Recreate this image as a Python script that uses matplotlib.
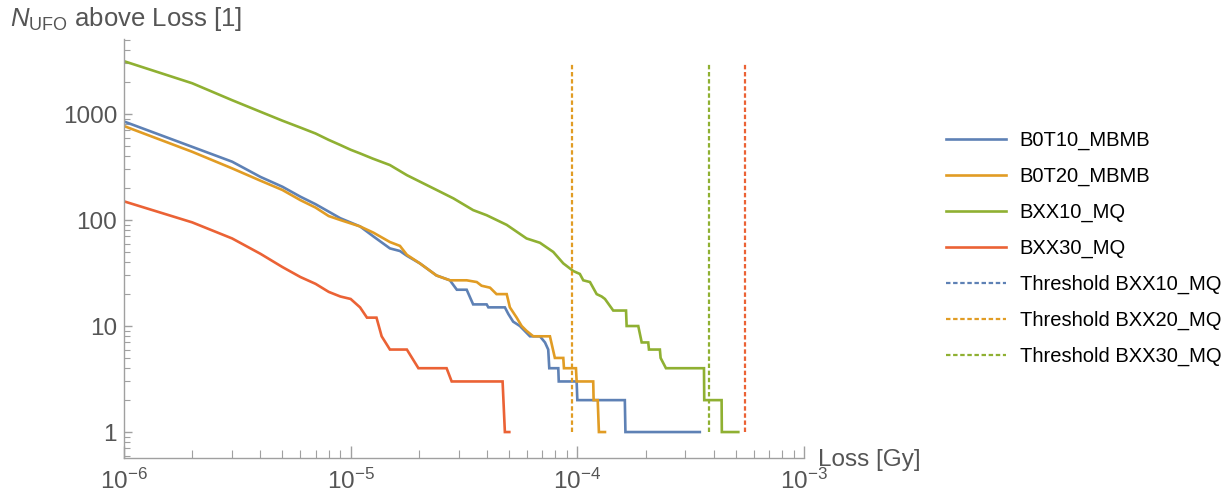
import matplotlib
matplotlib.use("Agg")
import matplotlib.pyplot as plt
from matplotlib.lines import Line2D
from matplotlib.ticker import LogLocator, NullFormatter

# Cumulative UFO counts above a given loss, one curve per monitor family
b0t10_loss = [1e-6, 2e-6, 3e-6, 4e-6, 5e-6, 6e-6, 7e-6, 8e-6, 9e-6,
              1.10e-5, 1.26e-5, 1.49e-5, 1.65e-5, 1.77e-5, 2.02e-5, 2.39e-5, 2.74e-5,
              2.94e-5, 3.25e-5, 3.47e-5, 3.98e-5, 4.05e-5, 4.79e-5, 4.96e-5, 5.21e-5,
              5.58e-5, 6.18e-5, 6.84e-5, 7.20e-5, 7.44e-5, 7.52e-5, 8.24e-5, 8.28e-5,
              9.93e-5, 1.0e-4, 1.62e-4, 1.63e-4, 3.47e-4]
b0t10_n = [850, 490, 355, 255, 206, 166, 141, 120, 104,
           87, 70, 54, 51, 46, 39, 30, 27,
           22, 22, 16, 16, 15, 15, 13, 11,
           10, 8, 8, 7, 6, 4, 4, 3,
           3, 2, 2, 1, 1]

b0t20_loss = [1e-6, 2e-6, 3e-6, 4e-6, 5e-6, 6e-6, 7e-6, 8e-6, 9e-6,
              1.10e-5, 1.26e-5, 1.49e-5, 1.65e-5, 1.77e-5, 2.02e-5, 2.39e-5, 2.74e-5,
              3.25e-5, 3.60e-5, 3.78e-5, 4.12e-5, 4.40e-5, 4.88e-5, 5.04e-5, 5.40e-5,
              5.68e-5, 5.97e-5, 6.39e-5, 7.57e-5, 7.96e-5, 8.67e-5, 8.73e-5, 9.86e-5,
              9.93e-5, 1.175e-4, 1.18e-4, 1.23e-4, 1.245e-4, 1.324e-4]
b0t20_n = [770, 440, 307, 235, 192, 154, 131, 109, 100,
           87, 76, 62, 57, 47, 39, 30, 27,
           27, 26, 24, 23, 20, 20, 15, 12,
           10, 9, 8, 8, 5, 5, 4, 4,
           3, 3, 2, 2, 1, 1]

bxx10_loss = [1e-6, 2e-6, 3e-6, 4e-6, 5e-6, 6e-6, 7e-6, 8e-6, 9e-6, 1.0e-5,
              1.1e-5, 1.25e-5, 1.49e-5, 1.77e-5, 2.09e-5, 2.48e-5, 2.84e-5, 3.47e-5,
              3.98e-5, 4.88e-5, 5.97e-5, 6.84e-5, 7.83e-5, 8.67e-5, 9.6e-5, 1.026e-4,
              1.062e-4, 1.137e-4, 1.217e-4, 1.28e-4, 1.324e-4, 1.44e-4, 1.64e-4, 1.65e-4,
              1.857e-4, 1.923e-4, 2.055e-4, 2.07e-4, 2.313e-4, 2.33e-4, 2.46e-4, 3.62e-4,
              3.63e-4, 4.33e-4, 4.34e-4, 5.13e-4]
bxx10_n = [3150, 1950, 1350, 1050, 865, 745, 655, 570, 510, 460,
           425, 380, 330, 265, 222, 185, 160, 124,
           111, 90, 67, 61, 50, 39, 33, 31,
           27, 26, 20, 19, 18, 14, 14, 10,
           10, 7, 7, 6, 6, 5, 4, 4,
           2, 2, 1, 1]

bxx30_loss = [1e-6, 2e-6, 3e-6, 4e-6, 5e-6, 6e-6, 7e-6, 8e-6, 9e-6, 1.0e-5,
              1.10e-5, 1.18e-5, 1.30e-5, 1.37e-5, 1.49e-5, 1.77e-5, 1.99e-5, 2.65e-5,
              2.79e-5, 4.68e-5, 4.79e-5, 5.01e-5]
bxx30_n = [150, 95, 67, 48, 36, 29, 25, 21, 19, 18,
           15, 12, 12, 8, 6, 6, 4, 4,
           3, 3, 1, 1]

# Loss thresholds (vertical markers), drawn from N = 1 up to the top of the data
threshold_loss = [9.5e-5, 3.8e-4, 5.48e-4]
threshold_span = [1, 3000]

series_labels = ["B0T10_MBMB", "B0T20_MBMB", "BXX10_MQ", "BXX30_MQ"]
threshold_labels = ["Threshold BXX10_MQ", "Threshold BXX20_MQ", "Threshold BXX30_MQ"]

BLUE = "#5E81B5"
ORANGE = "#E19C24"
GREEN = "#8FB032"
RED = "#EB6235"
AXIS_GREY = "#a0a0a0"
TEXT_GREY = "#555555"

plt.rcParams.update({
    "font.family": ["Liberation Sans", "DejaVu Sans"],
    "mathtext.fontset": "custom",
    "mathtext.rm": "Liberation Sans",
    "mathtext.it": "Liberation Sans:italic",
    "mathtext.bf": "Liberation Sans:bold",
})

W, H = 1230, 497
fig = plt.figure(figsize=(W / 100, H / 100), dpi=100)
ax = fig.add_axes([124 / W, 1 - 458 / H, (804 - 124) / W, (458 - 39) / H])

LW = 1.9
series = [(b0t10_loss, b0t10_n, BLUE), (b0t20_loss, b0t20_n, ORANGE),
          (bxx10_loss, bxx10_n, GREEN), (bxx30_loss, bxx30_n, RED)]
handles = []
for (x, y, c), lab in zip(series, series_labels):
    h, = ax.plot(x, y, color=c, lw=LW, solid_joinstyle="miter", label=lab)
    handles.append(h)

dot = (0, (2, 1.2))
for xv, c in zip(threshold_loss, [ORANGE, GREEN, RED]):
    ax.plot([xv, xv], threshold_span, color=c, lw=1.6, linestyle=dot)

# legend entries for the thresholds use the first three palette colours
for c in [BLUE, ORANGE, GREEN]:
    handles.append(Line2D([], [], color=c, lw=1.6, linestyle=dot))

ax.set_xscale("log")
ax.set_yscale("log")
ax.set_xlim(1e-6, 1e-3)
ax.set_ylim(0.569, 5100)

for s in ["top", "right"]:
    ax.spines[s].set_visible(False)
for s in ["left", "bottom"]:
    ax.spines[s].set_color(AXIS_GREY)
    ax.spines[s].set_linewidth(1.0)

ax.xaxis.set_major_locator(LogLocator(base=10, numticks=10))
ax.xaxis.set_minor_locator(LogLocator(base=10, subs=range(2, 10), numticks=20))
ax.xaxis.set_minor_formatter(NullFormatter())
ax.set_yticks([1, 10, 100, 1000])
ax.set_yticklabels(["1", "10", "100", "1000"])
ax.yaxis.set_minor_locator(LogLocator(base=10, subs=range(2, 10), numticks=20))
ax.yaxis.set_minor_formatter(NullFormatter())

ax.tick_params(axis="x", which="major", direction="in", length=9, width=1.0,
               color=AXIS_GREY, labelsize=17.5, labelcolor=TEXT_GREY, pad=8)
ax.tick_params(axis="x", which="minor", direction="in", length=5.5, width=0.8,
               color=AXIS_GREY)
ax.tick_params(axis="y", which="major", direction="in", length=6, width=1.0,
               color=AXIS_GREY, labelsize=17.5, labelcolor=TEXT_GREY, pad=5)
ax.tick_params(axis="y", which="minor", direction="in", length=4, width=0.8,
               color=AXIS_GREY)

fig.text(10 / W, 1 - 26 / H, r"$N_{\mathrm{UFO}}$ above Loss [1]", fontsize=18.5,
         color=TEXT_GREY, ha="left", va="baseline")
fig.text(818 / W, 1 - 460 / H, "Loss [Gy]", fontsize=17.5, color=TEXT_GREY,
         ha="left", va="center")

fig.legend(handles, series_labels + threshold_labels, loc="upper left",
           bbox_to_anchor=(946 / W, 1 - 131 / H), frameon=False, fontsize=14.5,
           handlelength=3.0, handletextpad=0.65, labelspacing=0.83,
           borderpad=0, borderaxespad=0)

fig.savefig("out.png", dpi=100)
